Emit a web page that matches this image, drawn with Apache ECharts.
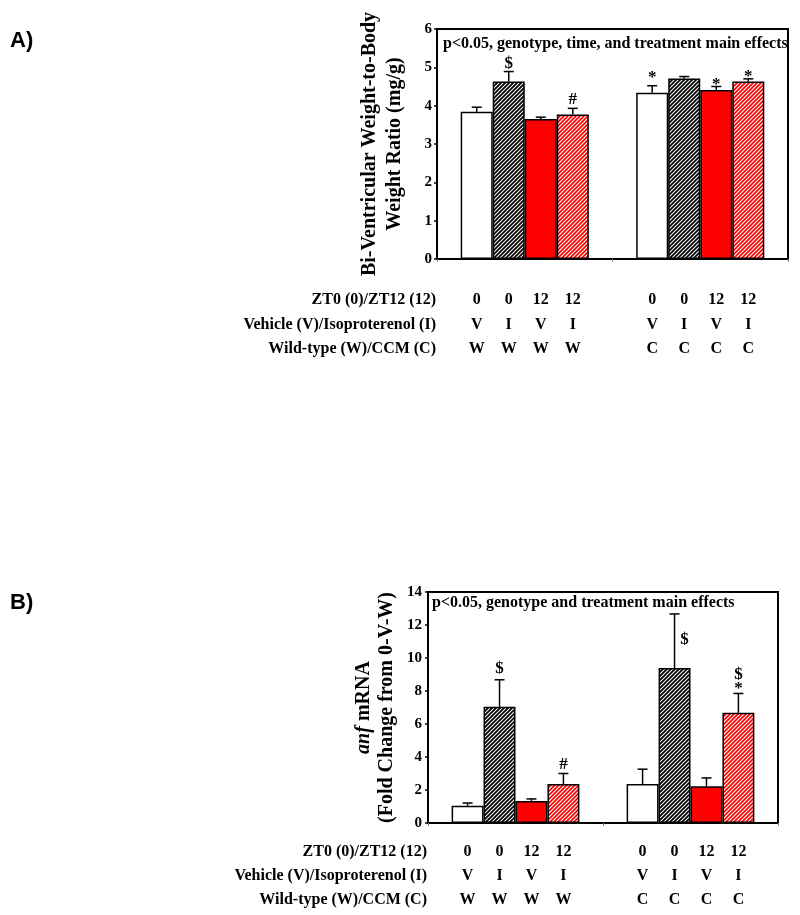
<!DOCTYPE html>
<html><head><meta charset="utf-8">
<script src="https://cdn.jsdelivr.net/npm/echarts@6/dist/echarts.min.js"></script>
<style>html,body{margin:0;padding:0;background:#fff}#c{width:800px;height:915px}</style>
</head><body><div id="c"></div>
<script>
// ---------- data ----------
const groups = ['W', 'C'];
const timeRow = ['0', '0', '12', '12'];
const treatRow = ['V', 'I', 'V', 'I'];
const genoRow = ['W', 'C'];
const rowLabels = ['ZT0 (0)/ZT12 (12)', 'Vehicle (V)/Isoproterenol (I)', 'Wild-type (W)/CCM (C)'];

// Panel A: bi-ventricular weight-to-body weight ratio (mg/g), [W, C]
const bvw0V = [3.84, 4.34];
const bvw0I = [4.63, 4.71];
const bvw12V = [3.65, 4.41];
const bvw12I = [3.77, 4.63];
const bvwSem0V = [0.12, 0.18];
const bvwSem0I = [0.26, 0.05];
const bvwSem12V = [0.05, 0.09];
const bvwSem12I = [0.16, 0.07];
// [seriesIndex, groupIndex, symbol, level]
const bvwMarks = [[1, 0, '$', 5.10], [3, 0, '#', 4.15], [0, 1, '*', 4.72], [2, 1, '*', 4.55], [3, 1, '*', 4.76]];
const bvwTicks = { min: 0, max: 6, interval: 1 };

// Panel B: anf mRNA fold change, [W, C]
const anf0V = [1.05, 2.37];
const anf0I = [7.04, 9.39];
const anf12V = [1.34, 2.23];
const anf12I = [2.37, 6.68];
const anfSem0V = [0.16, 0.89];
const anfSem0I = [1.64, 3.28];
const anfSem12V = [0.12, 0.50];
const anfSem12I = [0.63, 1.17];
const anfMarks = [[1, 0, '$', 9.33], [3, 0, '#', 3.56], [1, 1, '$', 11.11], [3, 1, '$', 8.99], [3, 1, '*', 8.12]];
const anfTicks = { min: 0, max: 14, interval: 2 };

// ---------- styling ----------
const FONT = 'Liberation Serif';
const CAT_GAP = 0.27;
function hatch(color, size, lw) {
  const c = document.createElement('canvas');
  c.width = size; c.height = size;
  const g = c.getContext('2d');
  g.fillStyle = '#fff'; g.fillRect(0, 0, size, size);
  g.strokeStyle = color; g.lineWidth = lw;
  g.beginPath();
  g.moveTo(-1, size + 1); g.lineTo(size + 1, -1);
  g.moveTo(-1, 1); g.lineTo(1, -1);
  g.moveTo(size - 1, size + 1); g.lineTo(size + 1, size - 1);
  g.stroke();
  return c;
}
const blackHatch = hatch('#000', 4, 1.8);
const redHatch = hatch('#ff0000', 4, 1.7);
const barStyles = [
  { color: '#ffffff', borderColor: '#000', borderWidth: 1.5 },
  { color: { image: blackHatch, repeat: 'repeat' }, borderColor: '#000', borderWidth: 1.5 },
  { color: '#ff0000', borderColor: '#000', borderWidth: 1.5 },
  { color: { image: redHatch, repeat: 'repeat' }, borderColor: '#000', borderWidth: 1.5 }
];

function barOffset(api, s) {
  const band = api.size([1, 0])[0];
  const bw = band * (1 - CAT_GAP) / 4;
  return (s - 1.5) * bw;
}

function errRender(rowOffsets) {
  return function (params, api) {
    const g = api.value(0), s = api.value(1), m = api.value(2), e = api.value(3);
    const p0 = api.coord([g, m]), p1 = api.coord([g, m + e]), pb = api.coord([g, 0]);
    const x = p0[0] + barOffset(api, s);
    const ls = { stroke: '#000', lineWidth: 1.5 };
    const ch = [
      { type: 'line', shape: { x1: x, y1: p0[1], x2: x, y2: p1[1] }, style: ls },
      { type: 'line', shape: { x1: x - 5, y1: p1[1], x2: x + 5, y2: p1[1] }, style: ls }
    ];
    const rows = [timeRow[s], treatRow[s], genoRow[g]];
    rows.forEach((t, i) => ch.push({
      type: 'text', x: x, y: pb[1] + rowOffsets[i],
      style: { text: t, fill: '#000', font: 'bold 16px "' + FONT + '"', align: 'center', verticalAlign: 'middle' }
    }));
    return { type: 'group', children: ch };
  };
}

function markRender(marks) {
  return function (params, api) {
    const mk = marks[params.dataIndex];
    const g = api.value(0), s = api.value(1), y = api.value(2), top = api.value(3);
    const p = api.coord([g, y]);
    const side = y < top;
    const x = p[0] + barOffset(api, s) + (side ? 10 : 0);
    return {
      type: 'text', x: x, y: p[1],
      style: { text: mk[2], fill: '#000', font: 'bold 17px "' + FONT + '"', align: 'center', verticalAlign: 'middle' }
    };
  };
}

function panelSeries(idx, means, sems, marks, rowOffsets) {
  const out = [];
  for (let s = 0; s < 4; s++) {
    out.push({
      type: 'bar', xAxisIndex: idx, yAxisIndex: idx, data: means[s],
      barGap: '0%', barCategoryGap: (CAT_GAP * 100) + '%',
      itemStyle: barStyles[s], silent: true, z: 2
    });
  }
  const errData = [];
  for (let s = 0; s < 4; s++) for (let g = 0; g < 2; g++) errData.push([g, s, means[s][g], sems[s][g]]);
  out.push({
    type: 'custom', xAxisIndex: idx, yAxisIndex: idx, clip: false, silent: true, z: 3,
    renderItem: errRender(rowOffsets), data: errData, encode: { x: 0, y: 2 }
  });
  const markData = marks.map(mk => [mk[1], mk[0], mk[3], means[mk[0]][mk[1]] + sems[mk[0]][mk[1]]]);
  out.push({
    type: 'custom', xAxisIndex: idx, yAxisIndex: idx, clip: false, silent: true, z: 4,
    renderItem: markRender(marks), data: markData, encode: { x: 0, y: 2 }
  });
  return out;
}

function yAxisCfg(idx, ticks, name, nameSize, lineH, rich, margin) {
  return {
    gridIndex: idx, type: 'value', min: ticks.min, max: ticks.max, interval: ticks.interval,
    axisLine: { show: true, lineStyle: { color: '#000', width: 2 } },
    axisTick: { show: true, length: 3, lineStyle: { color: '#000', width: 1.5 } },
    splitLine: { show: false },
    axisLabel: { color: '#000', fontFamily: FONT, fontWeight: 'bold', fontSize: 15, margin: margin },
    name: name, nameLocation: 'middle', nameGap: 30,
    nameTextStyle: { color: '#000', fontFamily: FONT, fontWeight: 'bold', fontSize: nameSize, lineHeight: lineH, rich: rich }
  };
}
function xAxisCfg(idx) {
  return {
    gridIndex: idx, type: 'category', data: groups,
    axisLine: { show: true, lineStyle: { color: '#000', width: 2 } },
    axisTick: { show: true, length: 3, lineStyle: { color: '#888', width: 1 } },
    axisLabel: { show: false }, splitLine: { show: false }
  };
}

const chart = echarts.init(document.getElementById('c'), null, { renderer: 'canvas', width: 800, height: 915 });

const txt = (x, y, text, font, align) => ({
  type: 'text', x: x, y: y, silent: true,
  style: { text: text, fill: '#000', font: font, align: align || 'left', verticalAlign: 'middle' }
});
const rowFont = 'bold 16px "' + FONT + '"';
const graphics = [
  txt(10, 41, 'A)', 'bold 22px "Liberation Sans"'),
  txt(10, 603, 'B)', 'bold 22px "Liberation Sans"'),
  txt(443, 44, 'p<0.05, genotype, time, and treatment main effects', 'bold 16px "' + FONT + '"'),
  txt(432, 603, 'p<0.05, genotype and treatment main effects', 'bold 16px "' + FONT + '"')
];
[300, 325, 349].forEach((y, i) => graphics.push(txt(436, y, rowLabels[i], rowFont, 'right')));
[852, 876, 900].forEach((y, i) => graphics.push(txt(427, y, rowLabels[i], rowFont, 'right')));

const option = {
  backgroundColor: '#fff',
  animation: false,
  grid: [
    { left: 437, top: 29, width: 351, height: 230, show: true, borderColor: '#000', borderWidth: 2, backgroundColor: 'transparent' },
    { left: 428, top: 592, width: 350, height: 231, show: true, borderColor: '#000', borderWidth: 2, backgroundColor: 'transparent' }
  ],
  xAxis: [xAxisCfg(0), xAxisCfg(1)],
  yAxis: [
    yAxisCfg(0, bvwTicks, 'Bi-Ventricular Weight-to-Body\nWeight Ratio (mg/g)', 20, 25, {}, 5),
    yAxisCfg(1, anfTicks, '{i|anf} mRNA\n(Fold Change from 0-V-W)', 20, 23,
      { i: { fontStyle: 'italic', fontWeight: 'bold', fontFamily: FONT, fontSize: 20, color: '#000', lineHeight: 23 } }, 6)
  ],
  graphic: graphics,
  series: [].concat(
    panelSeries(0, [bvw0V, bvw0I, bvw12V, bvw12I], [bvwSem0V, bvwSem0I, bvwSem12V, bvwSem12I], bvwMarks, [41, 66, 90]),
    panelSeries(1, [anf0V, anf0I, anf12V, anf12I], [anfSem0V, anfSem0I, anfSem12V, anfSem12I], anfMarks, [29, 53, 77])
  )
};
chart.setOption(option);
</script>
</body></html>
